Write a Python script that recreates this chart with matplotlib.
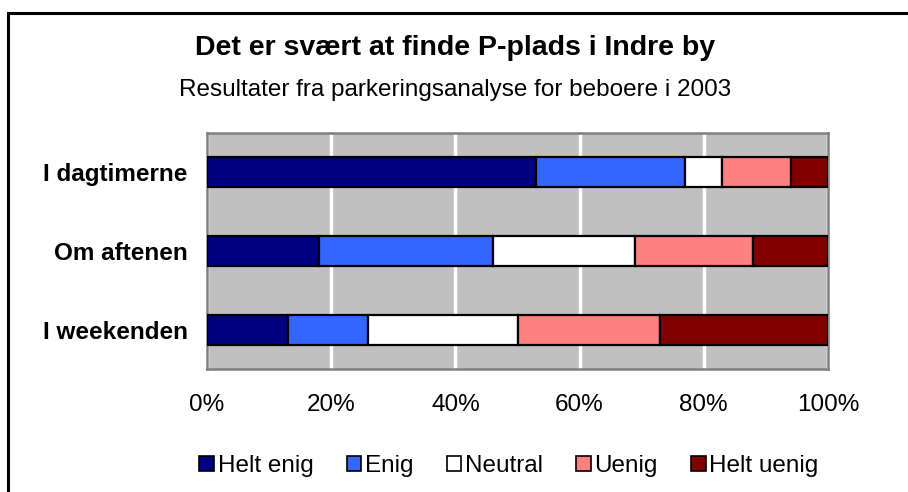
import matplotlib
matplotlib.use("Agg")
import matplotlib.pyplot as plt
from matplotlib.patches import Rectangle, Patch
import numpy as np

plt.rcParams['font.family'] = ['Liberation Sans', 'DejaVu Sans']

categories = ["I dagtimerne", "Om aftenen", "I weekenden"]
series_names = ["Helt enig", "Enig", "Neutral", "Uenig", "Helt uenig"]
helt_enig = [53, 18, 13]
enig = [24, 28, 13]
neutral = [6, 23, 24]
uenig = [11, 19, 23]
helt_uenig = [6, 12, 27]
colors = ["#000080", "#3366FF", "#FFFFFF", "#FF8080", "#800000"]
xticks = [0, 20, 40, 60, 80, 100]
xticklabels = ["0%", "20%", "40%", "60%", "80%", "100%"]

W, H = 908, 492
fig = plt.figure(figsize=(W/100, H/100), dpi=100)
fig.patch.set_facecolor("white")

# outer border
fig.patches.append(Rectangle((8/W, -0.05), 1.2, (H-13)/H + 0.05, transform=fig.transFigure,
                             fill=False, edgecolor="black", linewidth=2.2))

left, right, top, bottom = 207, 828, 133, 369
ax = fig.add_axes([left/W, 1-bottom/H, (right-left)/W, (bottom-top)/H])
ax.set_facecolor("#C0C0C0")

y = np.arange(len(categories))
series = [helt_enig, enig, neutral, uenig, helt_uenig]
cum = np.zeros(len(categories))
for name, vals, c in zip(series_names, series, colors):
    vals = np.array(vals, dtype=float)
    ax.barh(y, vals, left=cum, height=0.38, color=c, edgecolor="black",
            linewidth=1.6, label=name, zorder=3)
    cum += vals

ax.set_xlim(0, 100)
ax.set_ylim(len(categories)-0.5, -0.5)
ax.set_xticks(xticks)
ax.set_xticklabels(xticklabels, fontsize=17.5)
ax.set_yticks(y)
ax.set_yticklabels(categories, fontsize=17.5, fontweight="bold")
ax.tick_params(axis="both", length=0)
ax.tick_params(axis="x", pad=18)
ax.tick_params(axis="y", pad=14)
ax.grid(axis="x", color="white", linewidth=2.5, zorder=1)
ax.set_axisbelow(True)
for s in ax.spines.values():
    s.set_color("#808080")
    s.set_linewidth(1.8)

fig.text(455/W, 1-48/H, "Det er svært at finde P-plads i Indre by", ha="center", va="center",
         fontsize=20.5, fontweight="bold")
fig.text(455/W, 1-90/H, "Resultater fra parkeringsanalyse for beboere i 2003", ha="center",
         va="center", fontsize=17.5)

handles = [Patch(facecolor=c, edgecolor="black", linewidth=1.2) for c in colors]
fig.legend(handles, series_names, loc="center", bbox_to_anchor=(509/W, 1-466/H), ncol=5,
           frameon=False, fontsize=17.5, handlelength=0.6, handleheight=0.6,
           handletextpad=0.15, columnspacing=1.37)

fig.savefig("out.png", dpi=100)
